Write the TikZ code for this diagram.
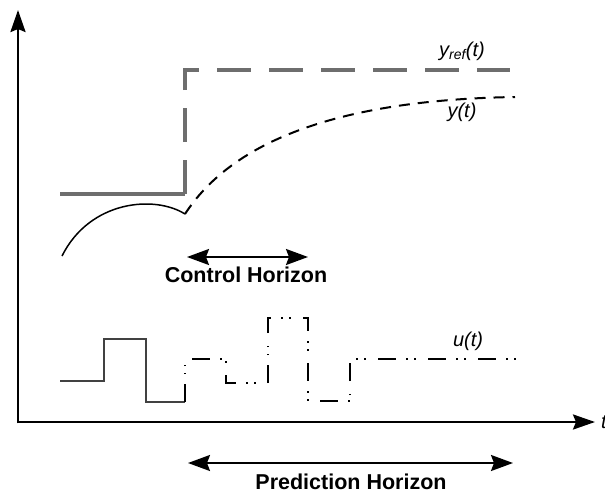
\documentclass[tikz,border=0pt]{standalone}
\usepackage{fontspec}
\setmainfont{Liberation Sans}
\usetikzlibrary{arrows.meta}
\definecolor{refgray}{RGB}{110,110,110}
\definecolor{stepgray}{RGB}{65,65,65}
\begin{document}
\begin{tikzpicture}[x=1pt, y=-1pt,
    axis/.style={line width=2.5pt, -{Stealth[length=22pt, width=15pt, inset=3pt]}},
    horizon/.style={line width=2pt,
                    {Stealth[length=22pt, width=16pt, inset=3pt]}-{Stealth[length=22pt, width=16pt, inset=3pt]}},
    title/.style={font=\fontsize{21.5}{22}\selectfont\bfseries, anchor=base, inner sep=0pt},
    lbl/.style={font=\fontsize{20}{20}\selectfont\itshape, inner sep=0pt},
    refline/.style={line width=3.5pt, refgray},
    predline/.style={line width=2pt, dash pattern=on 11pt off 8pt},
    stepline/.style={line width=2.5pt, stepgray},
    moveline/.style={line width=2pt, dash pattern=on 18pt off 10pt on 1.5pt off 6.5pt on 1.5pt off 12.5pt}
]
\useasboundingbox (0,0) rectangle (605,493);

\coordinate (origin) at (18,422);
\coordinate (ytop) at (18,10);
\coordinate (xend) at (595,422);
\draw[axis] ([yshift=-1.25pt]origin) -- (ytop);
\draw[axis] (origin) -- (xend);
\node[lbl, anchor=west] (tlabel) at (601,422) {t};

\coordinate (r0) at (60,194);
\coordinate (r1) at (185,194);
\coordinate (r2) at (185,70);
\coordinate (r3) at (510,70);
\draw[refline] (r0) -- (r1);
\draw[refline, dash pattern=on 34pt off 18pt] (r1) -- (r2) -- (r3);
\node[lbl] (yreflabel) at (462,51) {y\textsubscript{ref}(t)};

\coordinate (c0) at (62,256);
\coordinate (cusp) at (185,214);
\coordinate (c1) at (515,97);
\draw[line width=1.5pt] (c0) .. controls (90,200) and (155,195) .. (cusp);
\draw[predline] (cusp) .. controls (230,145) and (330,100) .. (c1);
\node[lbl] (ylabel) at (462,112) {y(t)};

\draw[stepline] (60,381) -- (104,381) -- (104,339) -- (146,339) -- (146,402) -- (185,402);
\draw[moveline] (185,402) -- (185,359) -- (226,359) -- (226,383) -- (268,383) -- (268,318)
    -- (308,318) -- (308,401) -- (350,401) -- (350,359) -- (517,359);
\node[lbl] (ulabel) at (468,341) {u(t)};

\coordinate (ch0) at (187,257);
\coordinate (ch1) at (308,257);
\draw[horizon] (ch0) -- (ch1);
\node[title] (chlabel) at (246,282) {Control Horizon};

\coordinate (ph0) at (188,463);
\coordinate (ph1) at (513,463);
\draw[horizon] (ph0) -- (ph1);
\node[title] (phlabel) at (351,489) {Prediction Horizon};
\end{tikzpicture}
\end{document}
